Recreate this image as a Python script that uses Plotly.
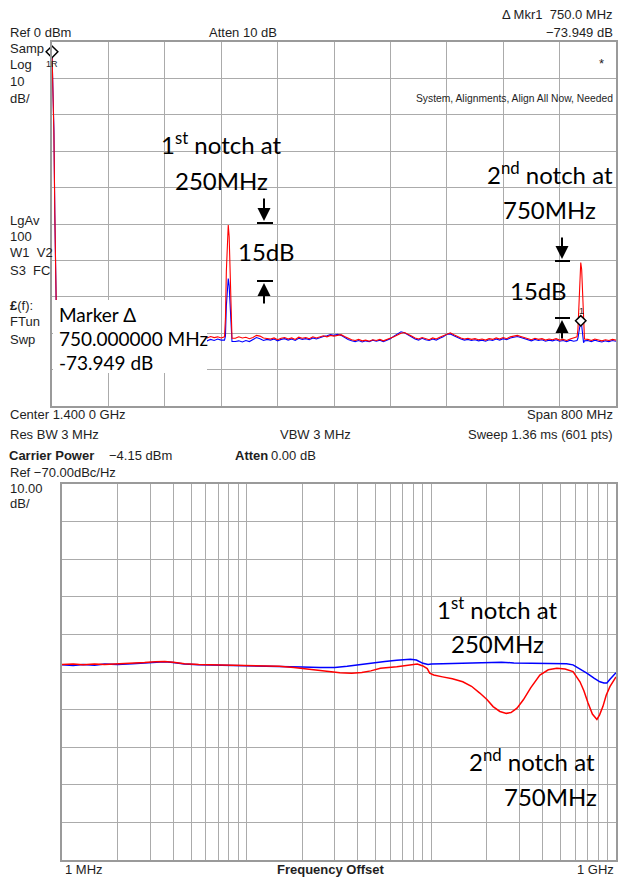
import plotly.graph_objects as go

W, H = 618, 877

# ---------------- top panel: swept spectrum, 1.0 - 1.8 GHz ----------------
sweep_start_ghz = 1.010
sweep_step_ghz = 0.005
red_floor_dbm = [
    -81.2, -81.8, -81.4, -82.0, -81.5, -81.1, -81.7, -81.9, -81.3, -81.6,
    -81.8, -81.4, -81.0, -81.6, -82.1, -81.5, -81.2, -81.7, -81.4, -81.9,
    -81.3, -81.6, -81.8, -81.2, -81.5, -81.9, -81.4, -81.1, -81.7, -81.5,
    -81.6, -81.2, -81.8, -81.4, -81.0, -81.5, -81.9, -81.3, -81.6, -81.2,
    -81.4, -81.0, -81.3, -80.9, -81.2, -81.0, -81.3, -81.1, -81.2, -81.4,
    -81.4, -81.0, -81.3, -81.1, -81.5, -81.2, -80.6, -80.8, -81.3, -81.5,
    -81.6, -81.3, -81.8, -81.4, -81.2, -81.6, -81.3, -81.7, -81.1, -81.4,
    -81.2, -81.5, -81.0, -81.3, -81.1, -80.7, -81.0, -80.6, -80.8, -80.5,
    -80.4, -80.9, -81.4, -81.8, -82.0, -81.7, -82.1, -81.9, -82.2, -81.8,
    -82.0, -81.7, -82.1, -81.8, -81.4, -81.0, -80.5, -80.0, -79.8, -80.2,
    -80.8, -81.3, -81.6, -81.2, -81.5, -81.8, -81.3, -81.6, -81.1, -80.7,
    -80.1, -79.9, -80.4, -80.9, -81.3, -81.6, -81.4, -81.7, -81.5, -81.8,
    -81.6, -81.9, -81.5, -81.7, -81.3, -81.6, -81.2, -81.5, -81.0, -80.8,
    -80.6, -80.9, -81.2, -81.5, -81.8, -81.4, -81.7, -81.5, -81.9, -81.6,
    -81.8, -81.5, -81.9, -81.7, -82.0, -81.6, -81.2, -80.9, -81.3, -81.5,
    -81.7, -82.0, -81.6, -81.9, -82.1, -81.8, -82.0, -81.7, -81.9,
]
blue_floor_dbm = [
    -81.6, -81.3, -82.0, -81.7, -81.4, -82.1, -81.8, -81.5, -82.0, -81.7,
    -81.5, -82.0, -81.8, -81.4, -81.9, -82.2, -81.6, -81.9, -82.1, -81.5,
    -81.9, -81.5, -82.1, -81.7, -81.4, -81.8, -82.0, -81.6, -81.9, -82.2,
    -81.8, -81.5, -82.0, -81.7, -82.1, -81.6, -81.9, -82.2, -81.7, -81.9,
    -82.0, -81.8, -82.1, -81.7, -82.0, -81.6, -81.9, -81.8, -82.0, -82.2,
    -82.3, -82.1, -82.4, -82.0, -82.3, -81.7, -81.2, -81.5, -82.0, -81.7,
    -81.9, -81.6, -82.1, -81.7, -81.5, -81.9, -81.6, -82.0, -81.4, -81.7,
    -81.5, -81.8, -81.3, -81.6, -81.2, -80.9, -80.7, -80.4, -80.6, -80.3,
    -80.6, -81.2, -81.7, -82.1, -82.3, -82.0, -82.4, -82.1, -82.3, -81.9,
    -82.2, -81.9, -82.3, -81.9, -81.5, -80.8, -80.2, -79.6, -79.9, -80.5,
    -81.1, -81.6, -81.9, -81.4, -81.8, -82.0, -81.6, -81.9, -81.4, -81.0,
    -80.3, -80.2, -80.7, -81.2, -81.6, -81.9, -81.7, -82.0, -81.8, -82.1,
    -81.9, -82.2, -81.8, -82.0, -81.6, -81.9, -81.5, -81.8, -81.3, -81.1,
    -80.9, -81.2, -81.5, -81.8, -82.1, -81.7, -82.0, -81.8, -82.2, -81.9,
    -82.1, -81.8, -82.2, -82.0, -82.3, -81.9, -82.2, -82.4, -82.1, -81.8,
    -82.0, -82.3, -81.9, -82.2, -82.4, -82.1, -82.3, -82.0, -82.2,
]
carrier_freq_ghz = [1.0000, 1.0013, 1.0027, 1.0040, 1.0053, 1.0067]
carrier_red_dbm = [-2.7, -12.0, -25.0, -47.0, -70.0, -81.0]
carrier_blue_dbm = [-2.7, -11.3, -24.0, -47.5, -70.5, -81.5]

spur1_freq_ghz = [1.2447, 1.2460, 1.2473, 1.2487, 1.2500, 1.2513, 1.2527, 1.2540, 1.2553]
spur1_red_dbm = [-81.0, -76.0, -63.0, -54.5, -50.3, -53.5, -62.0, -75.0, -81.4]
spur1_blue_dbm = [-81.9, -80.8, -72.5, -66.5, -65.0, -67.0, -73.5, -80.5, -82.3]

spur2_freq_ghz = [1.7447, 1.7460, 1.7473, 1.7487, 1.7500, 1.7513, 1.7527, 1.7540, 1.7553]
spur2_red_dbm = [-81.0, -79.0, -71.0, -63.5, -60.6, -62.5, -70.5, -79.5, -81.6]
spur2_blue_dbm = [-82.0, -81.4, -79.8, -77.6, -76.6, -77.9, -80.6, -82.6, -82.1]

ref_marker = (1.0, -2.7)
mkr1 = (1.75, -76.6)

# ---------------- bottom panel: phase noise vs offset ----------------
blue_offset_mhz = [1.0, 1.15, 1.3, 1.5, 1.7, 2.0, 2.4, 2.8, 3.2, 3.6, 4.0, 4.6, 5.5, 7, 9, 12, 15,
                   20, 25, 30, 35, 40, 48, 56, 65, 72, 77, 83, 90, 96, 100, 115, 140, 170, 200,
                   240, 280, 330, 380, 430, 480, 540, 585, 640, 695, 760, 818, 860, 893, 925,
                   951, 1000]
blue_pn_dbc = [-118.1, -118.3, -118.0, -118.2, -117.9, -118.0, -117.8, -117.6, -117.4, -117.3,
               -117.5, -117.9, -118.1, -118.2, -118.3, -118.3, -118.5, -118.7, -118.8, -118.8,
               -118.5, -118.1, -117.6, -117.2, -116.9, -116.7, -116.6, -116.8, -117.7, -118.0,
               -117.9, -117.8, -117.7, -117.6, -117.5, -117.4, -117.6, -117.7, -117.6, -117.7,
               -117.8, -117.8, -118.1, -119.2, -120.3, -121.6, -122.6, -122.9, -122.9, -122.0,
               -121.3, -120.2]
red_offset_mhz = [1.0, 1.15, 1.3, 1.5, 1.7, 2.0, 2.4, 2.8, 3.2, 3.6, 4.0, 4.6, 5.5, 7, 9, 12, 15,
                  18, 22, 27, 32, 37, 42, 47, 53, 65, 75, 84, 90, 95, 98, 103, 115, 130, 148,
                  165, 183, 200, 216, 235, 255, 270, 291, 315, 345, 387, 430, 478, 530, 585,
                  638, 670, 705, 745, 788, 815, 849, 885, 927, 1000]
red_pn_dbc = [-118.0, -117.9, -118.1, -117.9, -118.0, -117.9, -117.7, -117.5, -117.3, -117.2,
              -117.4, -117.8, -118.0, -118.1, -118.2, -118.3, -118.5, -118.8, -119.3, -119.8,
              -120.2, -120.3, -120.1, -119.7, -119.0, -118.6, -118.2, -117.9, -118.4, -119.1,
              -120.3, -120.8, -121.3, -121.8, -122.6, -123.8, -125.6, -127.3, -129.2, -130.5,
              -131.0, -130.8, -129.6, -127.4, -124.2, -120.8, -119.4, -119.0, -119.2, -119.9,
              -122.6, -125.0, -128.2, -131.2, -132.6, -131.4, -129.2, -126.2, -123.9, -121.3]
log_grid_mhz = [1, 2, 3, 4, 5, 6, 7, 8, 9, 10, 20, 30, 40, 50, 60, 70, 80, 90,
                100, 200, 300, 400, 500, 600, 700, 800, 900, 1000]


def build_sweep(floor, carrier, spur1, spur2):
    pts = []
    for i, v in enumerate(floor):
        f = round(sweep_start_ghz + sweep_step_ghz * i, 4)
        if 1.2435 <= f <= 1.2565 or 1.7435 <= f <= 1.7565:
            continue
        pts.append((f, v))
    for fl, vl in (carrier, spur1, spur2):
        pts.extend(zip(fl, vl))
    pts.sort()
    return [p[0] for p in pts], [p[1] for p in pts]


bx, by = build_sweep(blue_floor_dbm, (carrier_freq_ghz, carrier_blue_dbm),
                     (spur1_freq_ghz, spur1_blue_dbm), (spur2_freq_ghz, spur2_blue_dbm))
rx, ry = build_sweep(red_floor_dbm, (carrier_freq_ghz, carrier_red_dbm),
                     (spur1_freq_ghz, spur1_red_dbm), (spur2_freq_ghz, spur2_red_dbm))

RED = "#ff0000"
BLUE = "#0000ff"
GRID = "#ababab"
BORDER = "#9a9a9a"

fig = go.Figure()
fig.add_trace(go.Scatter(x=bx, y=by, mode="lines", line=dict(color=BLUE, width=1.1),
                         xaxis="x", yaxis="y"))
fig.add_trace(go.Scatter(x=rx, y=ry, mode="lines", line=dict(color=RED, width=1.1),
                         xaxis="x", yaxis="y"))
fig.add_trace(go.Scatter(x=[ref_marker[0]], y=[ref_marker[1]], mode="markers",
                         marker=dict(symbol="diamond", size=9, color="white",
                                     line=dict(color="black", width=1.5)),
                         cliponaxis=False, xaxis="x", yaxis="y"))
fig.add_trace(go.Scatter(x=[mkr1[0]], y=[mkr1[1]], mode="markers",
                         marker=dict(symbol="diamond", size=8, color="white",
                                     line=dict(color="black", width=1.5)),
                         cliponaxis=False, xaxis="x", yaxis="y"))

fig.add_trace(go.Scatter(x=blue_offset_mhz, y=blue_pn_dbc, mode="lines",
                         line=dict(color=BLUE, width=1.5), xaxis="x2", yaxis="y2"))
fig.add_trace(go.Scatter(x=red_offset_mhz, y=red_pn_dbc, mode="lines",
                         line=dict(color=RED, width=1.5), xaxis="x2", yaxis="y2"))

axis_common = dict(showgrid=True, gridcolor=GRID, gridwidth=1.2, zeroline=False,
                   showticklabels=False, ticks="", showline=True, linecolor=BORDER,
                   linewidth=2, mirror=True, fixedrange=True)

fig.update_layout(
    width=W, height=H, margin=dict(l=0, r=0, t=0, b=0),
    paper_bgcolor="white", plot_bgcolor="white", showlegend=False,
    xaxis=dict(domain=[52 / W, 616 / W], range=[1.0, 1.8], tick0=1.0, dtick=0.08,
               anchor="y", **axis_common),
    yaxis=dict(domain=[1 - 406 / H, 1 - 42 / H], range=[-100, 0], tick0=0, dtick=10,
               anchor="x", **axis_common),
    xaxis2=dict(domain=[62 / W, 616 / W], type="log", range=[0, 3], tickvals=log_grid_mhz,
                anchor="y2", **axis_common),
    yaxis2=dict(domain=[1 - 860 / H, 1 - 484 / H], range=[-170, -70], tick0=-70, dtick=10,
                anchor="x2", **axis_common),
)

INSTR = "Liberation Sans, Arial, sans-serif"
CAL = "Lato, Carlito, Calibri, sans-serif"
NB = "\u00a0"


def txt(s, x, y, size=13, family=INSTR, anchor="left", color="#1e1e1e"):
    fig.add_annotation(text=s, x=x / W, y=1 - y / H, xref="paper", yref="paper",
                       xanchor=anchor, yanchor="middle", showarrow=False,
                       font=dict(family=family, size=size, color=color))


# white marker readout box over the trace
fig.add_shape(type="rect", xref="paper", yref="paper", x0=53 / W, x1=207 / W,
              y0=1 - 373 / H, y1=1 - 300 / H, fillcolor="white", line=dict(width=0),
              layer="above")

# instrument header / side texts
txt("Ref 0 dBm", 8, 32)
txt("Atten 10 dB", 207, 32)
txt("\u0394 Mkr1" + NB + NB + "750.0 MHz", 615, 14, anchor="right")
txt("\u221273.949 dB", 615, 32, anchor="right")
txt("*", 601, 63, anchor="center")
txt("System, Alignments, Align All Now, Needed", 615, 98, size=10.3, anchor="right")
for s, y in [("Samp", 48), ("Log", 65), ("10", 82), ("dB/", 98), ("LgAv", 220), ("100", 237),
             ("W1" + NB + NB + "V2", 253), ("S3" + NB + NB + "FC", 270), ("<b>\u00a3</b>(f):", 305),
             ("FTun", 322), ("Swp", 339)]:
    txt(s, 8, y)
txt("1R", 52, 64, size=9, anchor="center")
txt("1", 581, 311, size=9, anchor="center")

txt("Center 1.400 0 GHz", 8, 415)
txt("Span 800 MHz", 615, 415, anchor="right")
txt("Res BW 3 MHz", 8, 435)
txt("VBW 3 MHz", 278, 435)
txt("Sweep 1.36 ms (601 pts)", 615, 435, anchor="right")
txt("<b>Carrier Power</b>", 7, 455)
txt("\u22124.15 dBm", 107, 455)
txt("<b>Atten</b>", 233, 455)
txt("0.00 dB", 269, 455)
txt("Ref \u221270.00dBc/Hz", 8, 472)
txt("10.00", 8, 488)
txt("dB/", 8, 503)
txt("1 MHz", 63, 869)
txt("<b>Frequency Offset</b>", 331, 869, anchor="center")
txt("1 GHz", 616, 869, anchor="right")

# marker readout
txt("Marker \u0394", 57, 314, size=19, family=CAL, color="black")
txt("750.000000 MHz", 57, 338, size=19, family=CAL, color="black")
txt("-73.949 dB", 57, 362, size=19, family=CAL, color="black")

# callouts
for s, x, y in [("1<sup>st</sup> notch at", 221, 143), ("250MHz", 221, 180),
                ("2<sup>nd</sup> notch at", 550, 173), ("750MHz", 549, 210),
                ("15dB", 266, 252), ("15dB", 538, 290),
                ("1<sup>st</sup> notch at", 497, 608), ("250MHz", 497, 643),
                ("2<sup>nd</sup> notch at", 532, 760), ("750MHz", 550, 796)]:
    txt(s, x, y, size=24, family=CAL, anchor="center", color="black")


def arrow(x, y_tail, y_head):
    fig.add_annotation(x=x / W, y=1 - y_head / H, xref="paper", yref="paper",
                       axref="pixel", ayref="pixel", ax=0, ay=y_tail - y_head,
                       text="", showarrow=True, arrowhead=2, arrowsize=1.3,
                       arrowwidth=2, arrowcolor="black")


def bar(x0, x1, y):
    fig.add_shape(type="line", xref="paper", yref="paper", x0=x0 / W, x1=x1 / W,
                  y0=1 - y / H, y1=1 - y / H, line=dict(color="black", width=2))


arrow(264, 197, 221)
bar(257, 273, 223)
arrow(264, 305, 283)
bar(257, 273, 281)
arrow(562, 236, 259)
bar(555, 570, 261)
arrow(562, 340, 320)
bar(555, 570, 318)

fig.write_html("out.html", config={"displayModeBar": False},
               post_script=["document.body.style.margin='0';"
                            "document.body.style.overflow='hidden';"])
